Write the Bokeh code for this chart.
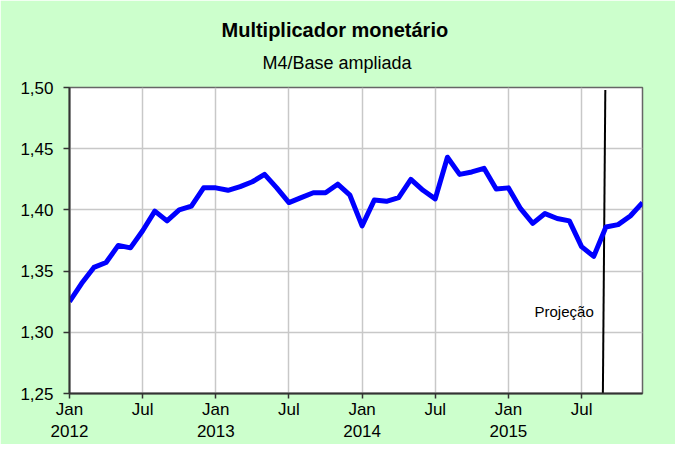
from bokeh.plotting import figure
from bokeh.models import Range1d, FixedTicker, CustomJSTickFormatter, Title, Label, ColumnDataSource
from bokeh.embed import file_html
from bokeh.resources import INLINE

# Monthly values, Jan 2012 .. Dec 2015
values = [1.325, 1.340, 1.353, 1.357, 1.371, 1.369, 1.383, 1.399, 1.391, 1.400,
          1.403, 1.418, 1.418, 1.416, 1.419, 1.423, 1.429, 1.418, 1.406, 1.410,
          1.414, 1.414, 1.421, 1.412, 1.387, 1.408, 1.407, 1.410, 1.425, 1.416,
          1.409, 1.443, 1.429, 1.431, 1.434, 1.417, 1.418, 1.401, 1.389, 1.397,
          1.393, 1.391, 1.370, 1.362, 1.386, 1.388, 1.395, 1.406]
tick_months = [0, 6, 12, 18, 24, 30, 36, 42]
tick_labels = ["Jan\n2012", "Jul", "Jan\n2013", "Jul", "Jan\n2014", "Jul", "Jan\n2015", "Jul"]
y_ticks = [1.25, 1.30, 1.35, 1.40, 1.45, 1.50]
proj_x_bottom = 43.75
proj_x_top = 43.95
proj_label = "Projeção"
title_text = "Multiplicador monetário"
subtitle_text = "M4/Base ampliada"

FONT = "Liberation Sans"

months = list(range(len(values)))
src = ColumnDataSource(dict(x=months, y=values))

p = figure(width=675, height=444, output_backend="svg", toolbar_location=None,
           x_range=Range1d(0, len(values) - 1), y_range=Range1d(y_ticks[0], y_ticks[-1]),
           min_border_left=69, min_border_right=33, min_border_bottom=51, min_border_top=87)
p.background_fill_color = "white"
p.border_fill_color = "#CCFFCC"
p.outline_line_color = "#666666"
p.outline_line_width = 1.5

sub = Title(text=subtitle_text, align="left", vertical_align="top", text_font=FONT,
            text_font_size="18px", text_font_style="normal", text_color="black",
            offset=193, standoff=26)
main = Title(text=title_text, align="left", vertical_align="top", text_font=FONT,
             text_font_size="20px", text_font_style="bold", text_color="black",
             offset=152, standoff=-7)
p.add_layout(sub, "above")
p.add_layout(main, "above")

# grid
p.xgrid.ticker = FixedTicker(ticks=tick_months)
p.ygrid.ticker = FixedTicker(ticks=y_ticks)
p.grid.grid_line_color = "#C8C8C8"
p.grid.grid_line_width = 1.5

# axes
p.xaxis.ticker = FixedTicker(ticks=tick_months)
p.xaxis.major_label_overrides = {m: l for m, l in zip(tick_months, tick_labels)}
p.yaxis.ticker = FixedTicker(ticks=y_ticks)
p.yaxis.formatter = CustomJSTickFormatter(code="return tick.toFixed(2).replace('.', ',');")
for ax in (p.xaxis, p.yaxis):
    ax.axis_line_color = "#333333"
    ax.axis_line_width = 2
    ax.major_tick_line_color = "#333333"
    ax.major_tick_line_width = 1.5
    ax.major_tick_in = 0
    ax.minor_tick_line_color = None
    ax.major_label_text_font = FONT
    ax.major_label_text_font_size = "17px"
    ax.major_label_text_color = "black"
p.xaxis.major_tick_out = 5
p.yaxis.major_tick_out = 6
p.xaxis.major_label_standoff = 1
p.yaxis.major_label_standoff = 10

# projection line
p.segment(x0=[proj_x_bottom], y0=[y_ticks[0]], x1=[proj_x_top], y1=[y_ticks[-1] - 0.002],
          line_color="black", line_width=2)
p.add_layout(Label(x=proj_x_bottom - 0.75, y=1.317, text=proj_label, text_align="right",
                   text_baseline="middle", text_font=FONT, text_font_size="15px",
                   text_color="black"))

p.line("x", "y", source=src, line_color="#0000FF", line_width=5, line_join="round")

open("out.html", "w").write(file_html(p, INLINE))
